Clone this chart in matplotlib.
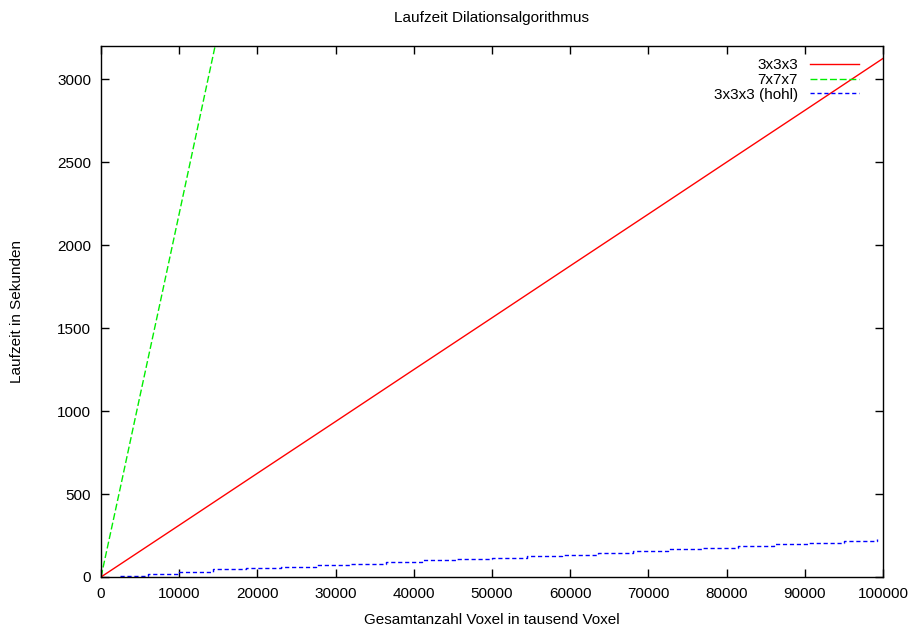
import matplotlib.pyplot as plt

plt.rcParams['font.family'] = ['Liberation Sans', 'DejaVu Sans']

# Gesamtanzahl Voxel (in tausend) und Laufzeit in Sekunden
x_3x3x3 = [0, 10000, 20000, 30000, 40000, 50000, 60000, 70000, 80000, 90000, 100000]
t_3x3x3 = [0, 312, 625, 937, 1250, 1562, 1875, 2187, 2500, 2812, 3125]

x_7x7x7 = [0, 2500, 5000, 7500, 10000, 12500, 15000]
t_7x7x7 = [0, 545, 1095, 1640, 2190, 2740, 3290]

x_hohl = [2400, 6000, 10000, 14300, 18500, 23000, 27500, 32000, 36500, 41000,
          45500, 50000, 54500, 59000, 63500, 68000, 72500, 77000, 81500,
          86000, 90500, 95000, 99200]
t_hohl = [5, 16, 28, 46, 52, 62, 70, 80, 90, 100,
          108, 116, 126, 134, 144, 156, 166, 176, 186,
          196, 206, 218, 229]

fig = plt.figure(figsize=(9.15, 6.33), dpi=100)
ax = fig.add_axes([0.1104, 0.0885, 0.8546, 0.8388])

ax.plot(x_3x3x3, t_3x3x3, color='#ff0000', lw=1.0, label='3x3x3')
ax.plot(x_7x7x7, t_7x7x7, color='#00ee00', lw=1.0, dashes=(5, 2), label='7x7x7')
ax.plot(x_hohl, t_hohl, color='#0000ff', lw=1.0, dashes=(3, 2), drawstyle='steps-post',
        label='3x3x3 (hohl)')

ax.set_xlim(0, 100000)
ax.set_ylim(0, 3200)
ax.set_xticks(range(0, 100001, 10000))
ax.set_yticks(range(0, 3001, 500))
ax.tick_params(direction='in', length=6, width=1, top=True, right=True,
               labelsize=11, pad=7)
for s in ax.spines.values():
    s.set_linewidth(1.0)

ax.set_title('Laufzeit Dilationsalgorithmus', fontsize=11, pad=17)
ax.set_xlabel('Gesamtanzahl Voxel in tausend Voxel', fontsize=11, labelpad=9)
ax.set_ylabel('Laufzeit in Sekunden', fontsize=11, labelpad=24)

ax.legend(loc='upper right', frameon=False, markerfirst=False, fontsize=11,
          handlelength=3.2, labelspacing=0.05, borderaxespad=0.4,
          bbox_to_anchor=(0.985, 1.0))

fig.savefig('out.png', dpi=100)
